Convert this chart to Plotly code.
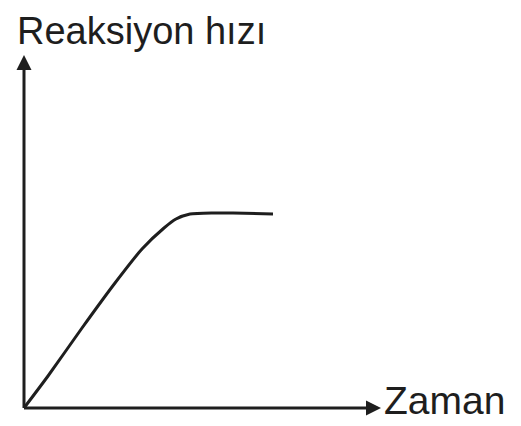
import plotly.graph_objects as go

# values (arbitrary units, origin at the axes corner)
time = [0, 24, 58, 91, 118, 140, 152, 166, 190, 209, 249]
rate = [0, 32, 80, 125, 159, 180, 189, 194, 195, 195, 194]

x_label = "Zaman"
y_label = "Reaksiyon hızı"

ink = "#1e1e1e"
font = "Liberation Sans, Arial, sans-serif"

fig = go.Figure()
fig.add_trace(go.Scatter(x=time, y=rate, mode="lines",
                         line=dict(color=ink, width=3, shape="spline", smoothing=0.6),
                         hoverinfo="skip"))

# axes drawn as arrows
fig.add_annotation(x=0, y=353, ax=0, ay=-1.5, xref="x", yref="y", axref="x", ayref="y",
                   showarrow=True, arrowhead=2, arrowsize=1, arrowwidth=3,
                   arrowcolor=ink, text="")
fig.add_annotation(x=357, y=0, ax=-1.5, ay=0, xref="x", yref="y", axref="x", ayref="y",
                   showarrow=True, arrowhead=2, arrowsize=1, arrowwidth=3,
                   arrowcolor=ink, text="")

fig.add_annotation(x=-9, y=400, xref="x", yref="y", text=y_label, showarrow=False,
                   xanchor="left", yanchor="top",
                   font=dict(family=font, size=38, color=ink))
fig.add_annotation(x=358, y=8, xref="x", yref="y", text=x_label, showarrow=False,
                   xanchor="left", yanchor="middle",
                   font=dict(family=font, size=39, color=ink))

# page body adds an 8px offset, so the figure is sized to fit the window
fig.update_layout(width=513, height=418, margin=dict(l=0, r=0, t=0, b=0),
                  paper_bgcolor="white", plot_bgcolor="white", showlegend=False)
fig.update_xaxes(range=[-16, 497], visible=False, fixedrange=True)
fig.update_yaxes(range=[-18, 400], visible=False, fixedrange=True)

fig.write_html("out.html")
